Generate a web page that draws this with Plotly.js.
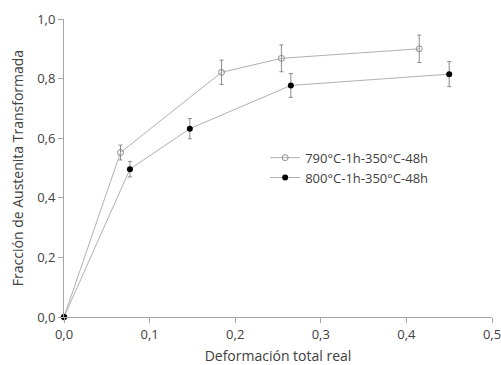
<!DOCTYPE html>
<html>
<head>
<meta charset="utf-8">
<script src="https://cdn.plot.ly/plotly-3.0.1.min.js"></script>
<style>html,body{margin:0;padding:0;background:#fff;}#chart{width:501px;height:365px;}</style>
</head>
<body>
<div id="chart"></div>
<script>
var seriesNames = ["790°C-1h-350°C-48h", "800°C-1h-350°C-48h"];
var x790 = [0, 0.066, 0.184, 0.254, 0.415];
var y790 = [0, 0.552, 0.821, 0.868, 0.900];
var err790 = [0, 0.025, 0.041, 0.045, 0.046];
var x800 = [0, 0.077, 0.147, 0.265, 0.450];
var y800 = [0, 0.496, 0.632, 0.777, 0.815];
var err800 = [0, 0.026, 0.034, 0.040, 0.042];
var xTicks = [0, 0.1, 0.2, 0.3, 0.4, 0.5];
var yTicks = [0, 0.2, 0.4, 0.6, 0.8, 1.0];

var lineColor = '#b0b0b0';
var traces = [
  {x: x790, y: y790, name: seriesNames[0], type: 'scatter', mode: 'lines+markers', cliponaxis: false,
   line: {color: lineColor, width: 1},
   marker: {symbol: 'circle-open', size: 6, color: '#8c8c8c', line: {width: 1, color: '#8c8c8c'}},
   error_y: {type: 'data', array: err790, visible: true, color: '#8c8c8c', thickness: 1, width: 2}},
  {x: x800, y: y800, name: seriesNames[1], type: 'scatter', mode: 'lines+markers', cliponaxis: false,
   line: {color: lineColor, width: 1},
   marker: {symbol: 'circle', size: 6, color: '#000000'},
   error_y: {type: 'data', array: err800, visible: true, color: '#8c8c8c', thickness: 1, width: 2}}
];
var fam = 'Open Sans, sans-serif';
var layout = {
  width: 501, height: 365,
  margin: {l: 64, r: 9, t: 19, b: 48, autoexpand: false},
  paper_bgcolor: '#fff', plot_bgcolor: '#fff',
  separators: ',.',
  font: {family: fam, size: 13, color: '#404040'},
  showlegend: true,
  legend: {x: 0.47, y: 0.585, xanchor: 'left', yanchor: 'top', bgcolor: 'rgba(0,0,0,0)',
           font: {family: fam, size: 13, color: '#404040'}, tracegroupgap: 0, itemwidth: 30},
  xaxis: {range: [0, 0.5], tickvals: xTicks, tickformat: '.1f', showgrid: false, zeroline: false,
          showline: true, linecolor: '#a6a6a6', linewidth: 1, ticks: 'outside', ticklen: 5, tickcolor: '#a6a6a6',
          ticklabeloverflow: 'allow', automargin: false,
          tickfont: {family: fam, size: 13, color: '#404040'},
          title: {text: 'Deformación total real', font: {family: fam, size: 14, color: '#404040'}, standoff: 10},
          fixedrange: true},
  yaxis: {range: [0, 1.0], tickvals: yTicks, tickformat: '.1f', showgrid: false, zeroline: false,
          showline: true, linecolor: '#a6a6a6', linewidth: 1, ticks: 'outside', ticklen: 5, tickcolor: '#a6a6a6',
          ticklabeloverflow: 'allow', automargin: false,
          tickfont: {family: fam, size: 13, color: '#404040'},
          title: {text: 'Fracción de Austenita Transformada', font: {family: fam, size: 14, color: '#404040'}, standoff: 10},
          fixedrange: true}
};
Plotly.newPlot('chart', traces, layout, {staticPlot: true, displayModeBar: false});
</script>
</body>
</html>
